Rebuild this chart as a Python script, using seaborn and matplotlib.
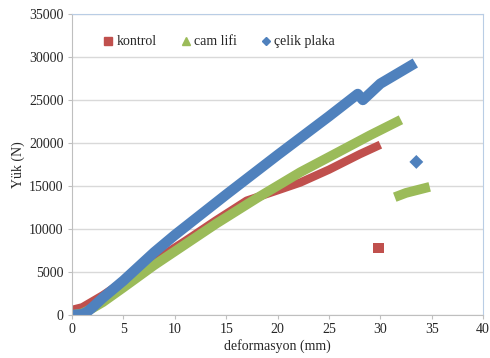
import matplotlib
matplotlib.use('Agg')
import matplotlib.pyplot as plt
import seaborn as sns
from matplotlib.lines import Line2D

# kontrol (red squares)
kontrol_x = [0, 1, 2, 3, 5, 8, 11, 14, 17, 20, 22.2, 25, 28, 30]
kontrol_y = [600, 900, 1600, 2300, 3900, 6300, 8600, 11000, 13300, 14500, 15400, 16900, 18700, 19800]
kontrol_out_x = [29.8]
kontrol_out_y = [7800]

# cam lifi (green triangles)
cam_x = [0, 1, 2, 3, 5, 8, 10.5, 14, 18, 22.2, 26, 29, 32]
cam_y = [0, 200, 800, 1500, 3200, 5800, 7800, 10600, 13600, 16600, 19000, 20900, 22700]
cam_tail_x = [31.4, 32.5, 34.8]
cam_tail_y = [13700, 14200, 14900]

# celik plaka (blue diamonds)
celik_x = [0, 1, 1.5, 2, 3, 5, 8, 10, 15, 20, 25, 27.8, 28.3, 30, 33.4]
celik_y = [0, 100, 400, 900, 2000, 4000, 7300, 9300, 14000, 18600, 23100, 25700, 25000, 26900, 29300]
celik_out_x = [33.5]
celik_out_y = [17800]

labels = ['kontrol', 'cam lifi', 'çelik plaka']
colors = ['#C0504D', '#9BBB59', '#4F81BD']

sns.set_style('white')
plt.rcParams['font.family'] = ['Liberation Serif', 'DejaVu Serif']

fig, ax = plt.subplots(figsize=(4.9, 3.58), dpi=100)
fig.subplots_adjust(left=0.147, right=0.986, top=0.961, bottom=0.12)

line_kw = dict(sort=False, estimator=None, ax=ax, solid_capstyle='butt', solid_joinstyle='round')
sns.lineplot(x=kontrol_x, y=kontrol_y, color=colors[0], linewidth=6, **line_kw)
sns.lineplot(x=cam_x, y=cam_y, color=colors[1], linewidth=7, **line_kw)
sns.lineplot(x=cam_tail_x, y=cam_tail_y, color=colors[1], linewidth=7, **line_kw)
sns.lineplot(x=celik_x, y=celik_y, color=colors[2], linewidth=7.5, **line_kw)
sns.scatterplot(x=kontrol_out_x, y=kontrol_out_y, color=colors[0], marker='s', s=60, edgecolor='none', ax=ax)
sns.scatterplot(x=celik_out_x, y=celik_out_y, color=colors[2], marker='D', s=50, edgecolor='none', ax=ax)

ax.set_xlim(0, 40)
ax.set_ylim(0, 35000)
ax.set_xticks(range(0, 41, 5))
ax.set_yticks(range(0, 35001, 5000))
ax.yaxis.grid(True, color='#D9D9D9', linewidth=1)
ax.set_axisbelow(True)
ax.tick_params(axis='both', labelsize=10, length=3, color='#BFBFBF', direction='out', pad=3)
ax.tick_params(axis='x', bottom=True)
ax.tick_params(axis='y', left=True)
for s in ['left', 'bottom']:
    ax.spines[s].set_color('#BFBFBF')
for s in ['top', 'right']:
    ax.spines[s].set_color('#B9CDE5')
ax.set_xlabel('deformasyon (mm)', fontsize=10, labelpad=2)
ax.set_ylabel('Yük (N)', fontsize=10, labelpad=3)

handles = [Line2D([], [], linestyle='none', marker=m, color=c, markersize=ms)
           for m, c, ms in zip(['s', '^', 'D'], colors, [6, 6, 4.5])]
ax.legend(handles, labels, loc='upper left', bbox_to_anchor=(0.04, 0.97), ncol=3, frameon=False,
          fontsize=10, handletextpad=0.1, columnspacing=1.6, handlelength=1)

fig.savefig('out.png', dpi=100)
